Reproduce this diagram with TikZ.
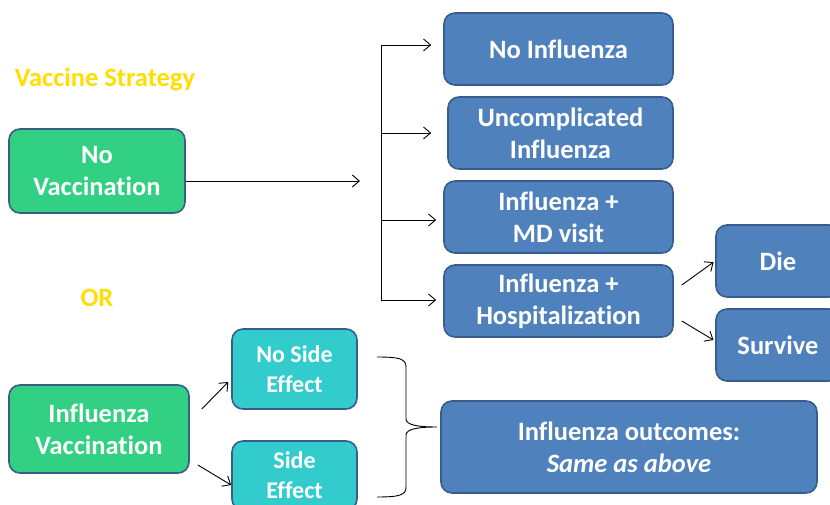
\documentclass[tikz,border=0pt]{standalone}
\usepackage{fontspec}
\setmainfont{Carlito}[Ligatures=NoCommon]
\usetikzlibrary{positioning,calc,arrows.meta}
\definecolor{BoxBlue}{RGB}{79,129,189}
\definecolor{BoxEdge}{RGB}{56,93,138}
\definecolor{VaccGreen}{RGB}{50,208,130}
\definecolor{SideCyan}{RGB}{51,204,204}
\definecolor{TitleGold}{RGB}{255,222,0}

\begin{document}
\begin{tikzpicture}[x=1pt,y=-1pt,
  box/.style={draw=BoxEdge,line width=1.6pt,rounded corners=11pt,text=white,align=center,inner sep=0pt,font=\fontsize{26.5}{32}\selectfont\bfseries},
  outbox/.style={box,fill=BoxBlue},
  stratbox/.style={box,fill=VaccGreen},
  sidebox/.style={box,fill=SideCyan,font=\fontsize{24}{30}\selectfont\bfseries},
  heading/.style={text=TitleGold,font=\fontsize{26.5}{30}\selectfont\bfseries},
  link/.style={line width=0.9pt,-{Straight Barb[length=7pt,width=12pt]}}]
\useasboundingbox (0,0) rectangle (830,505);
\node[heading] (title) at (105,79) {Vaccine Strategy};
\node[heading] (or) at (97,298) {OR};
\node[stratbox,minimum width=176pt,minimum height=84pt] (novacc) at (97,171) {No\\Vaccination};
\node[stratbox,minimum width=180pt,minimum height=88pt] (fluvacc) at (99,429) {Influenza\\Vaccination};
\node[outbox,minimum width=229pt,minimum height=72pt] (noflu) at (558.5,49) {No Influenza};
\node[outbox,minimum width=225pt,minimum height=72pt] (uncomp) at (560.5,133) {Uncomplicated\\Influenza};
\node[outbox,minimum width=229pt,minimum height=72pt] (mdvisit) at (558.5,217) {Influenza +\\MD visit};
\node[outbox,minimum width=229pt,minimum height=72pt] (hosp) at (558.5,301) {Influenza +\\Hospitalization};
\node[outbox,minimum width=124pt,minimum height=72pt] (die) at (778,261) {Die};
\node[outbox,minimum width=124pt,minimum height=72pt] (survive) at (778,345) {Survive};
\node[sidebox,minimum width=125pt,minimum height=80pt] (noside) at (294.5,369) {No Side\\Effect};
\node[sidebox,minimum width=125pt,minimum height=69pt] (side) at (294.5,475.5) {Side\\Effect};
\node[outbox,minimum width=376pt,minimum height=92pt] (same) at (629,447) {Influenza outcomes:\\\textit{Same as above}};
% tree of outcomes
\coordinate (split) at (360,181);
\coordinate (trunktop) at (381,45);
\coordinate (trunkbot) at (381,300);
\draw[link] ($(novacc.east)+(0,10)$) -- (split);
\draw[line width=0.9pt] (trunktop) -- (trunkbot);
\draw[link,shorten >=12pt] (trunktop) -- (noflu.west |- trunktop);
\draw[link,shorten >=16pt] (trunktop |- 0,133) -- (uncomp.west |- 0,133);
\draw[link,shorten >=7pt] (trunktop |- 0,220) -- (mdvisit.west |- 0,220);
\draw[link,shorten >=7pt] (trunkbot) -- (hosp.west |- trunkbot);
\draw[link,shorten >=2pt] ($(hosp.east)+(8,-16)$) -- (die.west);
\draw[link,shorten >=2pt] ($(hosp.east)+(8,20)$) -- ($(survive.west)+(0,-4)$);
% vaccination branch
\draw[link] ($(fluvacc.east)+(12,-20)$) -- ($(noside.west)+(-3,13)$);
\draw[link] ($(fluvacc.east)+(8,36)$) -- ($(side.west)+(0,9.5)$);
\draw[line width=0.9pt] (377,357) .. controls (400,357) and (406,359) .. (406,367) -- (406,419)
  .. controls (406,425) and (418,427) .. (437,427)
  (406,435) .. controls (406,429) and (418,427) .. (437,427)
  (406,435) -- (406,487) .. controls (406,495) and (400,497) .. (377,497);
\end{tikzpicture}
\end{document}
